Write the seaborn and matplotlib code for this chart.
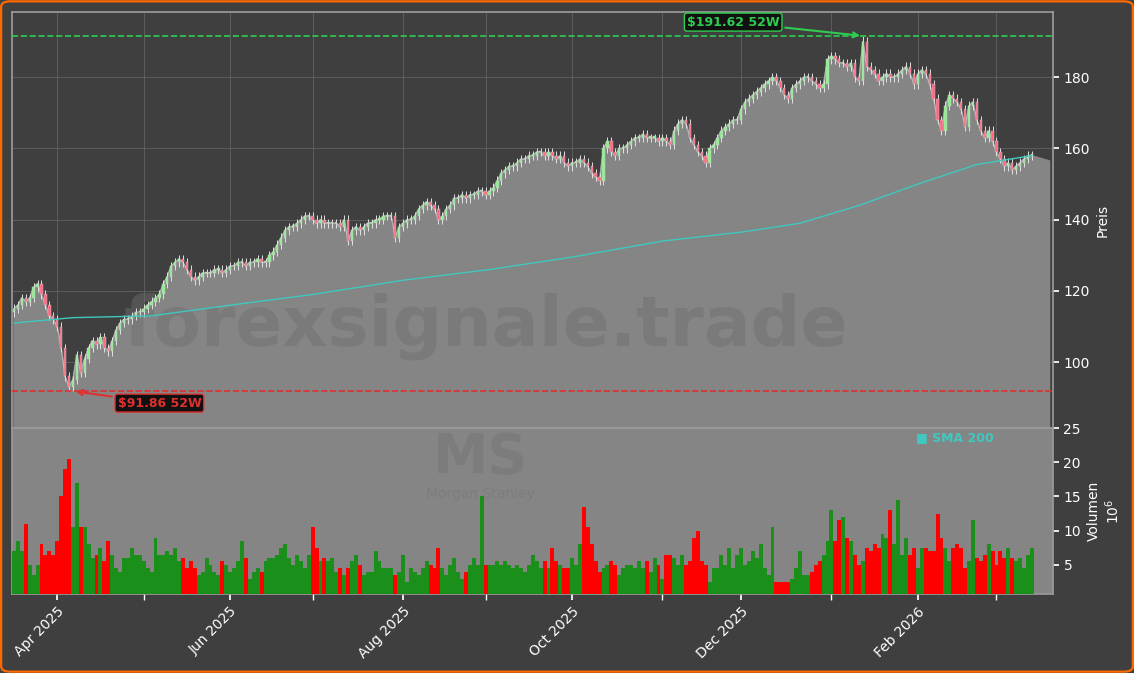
import numpy as np
import pandas as pd
import matplotlib
matplotlib.use("Agg")
import matplotlib.pyplot as plt
from matplotlib.patches import FancyBboxPatch
import seaborn as sns

sns.set_theme(style="dark")
plt.rcParams['font.family'] = ['DejaVu Sans']

dates = pd.bdate_range("2025-03-17", periods=260)
closes = [115,116,118,117,118, 121,122,119,116,113, 112,110,104,96,93, 95,102,97,101,104,
          106,105,107,104,103, 106,109,111,112,112, 113,114,114,115,116, 117,118,119,122,124,
          127,128,129,128,126, 124,123,124,125,125, 125,126,126,125,126, 127,127,128,128,127,
          128,128,129,128,128, 130,131,133,135,137, 138,138,139,140,141, 141,140,139,140,139,
          139,139,139,138,140, 134,137,138,137,138, 139,139,140,140,141, 141,141,135,138,139,
          140,140,141,143,144, 145,144,143,140,141, 143,144,146,146,147, 146,147,147,148,148,
          147,148,149,151,153, 154,155,155,156,157, 157,158,158,159,159, 158,159,158,157,158,
          156,155,156,156,157, 156,155,153,152,151, 160,162,159,158,160, 160,161,162,163,163,
          164,163,163,163,162, 163,162,161,165,167, 168,167,163,161,159, 158,156,160,161,163,
          165,166,167,168,168, 171,173,174,175,176, 177,178,179,180,179, 177,175,174,177,178,
          179,180,180,179,178, 177,178,185,186,185, 184,184,183,184,180, 179,190,183,182,181,
          179,180,181,180,180, 181,182,183,181,178, 181,182,181,178,174, 168,165,172,175,174,
          173,171,166,172,173, 168,165,163,165,162, 159,157,155,156,154, 155,156,157,158,158]
volumes = [7,8.5,7,11,5, 3.5,5,8,6.5,7, 6.5,8.5,15,19,20.5, 10.5,17,10.5,10.5,8,
           6,6.5,7.5,5.5,8.5, 6.5,4.5,4,6,6, 7.5,6.5,6.5,5.5,4.5, 4,9,6.5,6.5,7,
           6.5,7.5,5.5,6,4.5, 5.5,4.5,3.5,4,6, 5,4,3.5,5.5,5, 4,4.5,5.5,8.5,6,
           3,4,4.5,4,5.5, 6,6,6.5,7.5,8, 6,5,6.5,5.5,4.5, 6.5,10.5,7.5,5.5,6,
           5.5,6,4,4.5,3.5, 4.5,5.5,6.5,5,3.5, 4,4,7,5.5,4.5, 4.5,4.5,3.5,4,6.5,
           2.5,4.5,4,3.5,4.5, 5.5,5,4.5,7.5,4.5, 3.5,5,6,4,3, 4,5,6,5,15,
           5,5,5,5.5,5, 5.5,5,4.5,5,4.5, 4,5,6.5,5.5,4.5, 5.5,4.5,7.5,5.5,5,
           4.5,4.5,6,5,8, 13.5,10.5,8,5.5,4, 4.5,5,5.5,5,3.5, 4.5,5,5,4.5,5.5,
           4.5,5.5,4,6,5, 3,6.5,6.5,6,5, 6.5,5,5.5,9,10, 5.5,5,2.5,4.5,4.5,
           6.5,5,7.5,4.5,6.5, 7.5,5,5.5,7,6, 8,4.5,3.5,10.5,2.5, 2.5,2.5,2.5,3,4.5,
           7,3.5,3.5,4,5, 5.5,6.5,8.5,13,8.5, 11.5,12,9,8.5,6.5, 5,5.5,7.5,7,8,
           7.5,9.5,9,13,8, 14.5,6.5,9,6.5,7.5, 4.5,7.5,7.5,7,7, 12.5,9,7.5,5.5,7.5,
           8,7.5,4.5,5.5,11.5, 6,5.5,6.5,8,7, 5,7,6,7.5,6, 5.5,6,4.5,6.5,7.5]
sma_dates = ["2025-03-17","2025-04-07","2025-05-05","2025-06-02","2025-07-01","2025-08-01",
             "2025-09-02","2025-10-01","2025-11-03","2025-12-01","2025-12-22","2026-01-12",
             "2026-02-02","2026-02-23","2026-03-13"]
sma_vals = [111,112.5,113,116,119,123,126,129.5,134,136.5,139,144,150,155.5,158]
low_52w, low_date = 91.86, "2025-04-07"
high_52w, high_date = 191.62, "2026-01-13"

df = pd.DataFrame({"date": dates, "close": closes, "vol": volumes})
df["open"] = df["close"].shift(1).fillna(df["close"].iloc[0] - 1)
x = np.arange(len(df))
pos = pd.Series(x, index=df["date"])

BG = "#3f3f3f"
fig = plt.figure(figsize=(11.34, 6.73), dpi=100, facecolor=BG)
ax = fig.add_axes([0.0106, 0.364, 0.918, 0.618])
axv = fig.add_axes([0.0106, 0.1174, 0.918, 0.2466], sharex=ax)
fig.patches.append(FancyBboxPatch((0.001, 0.002), 0.998, 0.996, boxstyle="round,pad=0,rounding_size=0.008",
                                  transform=fig.transFigure, fill=False, edgecolor="#ff6a00", linewidth=1.6))
for a in (ax, axv):
    a.set_facecolor(BG)
    for s in a.spines.values():
        s.set_color("#9a9a9a")

# area fill
fx = np.append(x, x[-1] + 4.5)
fy = np.append(df["close"].values, df["close"].values[-1] - 1.5)
ax.fill_between(fx, 0, fy, color="#858585", zorder=1)
ax.plot(x, df["close"], color="#b0b0b0", lw=1, zorder=2)

# candles
up = df["close"] >= df["open"]
hi = np.maximum(df["close"], df["open"]) + 1.2
lo = np.minimum(df["close"], df["open"]) - 1.2
li = int(pos[pd.Timestamp(low_date)])
hii = int(pos[pd.Timestamp(high_date)])
lo.iloc[li] = low_52w
hi.iloc[hii] = high_52w
ax.vlines(x, lo, hi, color="#e0e0e0", lw=0.7, zorder=3)
body_c = np.where(up, "#90ee90", "#ff6680")
ax.bar(x, (df["close"] - df["open"]).abs().clip(lower=0.4), bottom=np.minimum(df["close"], df["open"]),
       width=0.6, color=body_c, edgecolor="#d0d0d0", linewidth=0.3, zorder=4)

sma_x = [int(pos[pd.Timestamp(d)]) for d in sma_dates]
sns.lineplot(x=sma_x, y=sma_vals, ax=ax, color="#40c8c0", lw=1, zorder=5)

ax.axhline(high_52w, color="#2ecc50", ls="--", lw=1.2, zorder=6)
ax.axhline(low_52w, color="#e03030", ls="--", lw=1.2, zorder=6)
ax.annotate(f"${high_52w:.2f} 52W", xy=(hii, high_52w), xytext=(hii - 33, 195.5),
            color="#2ecc50", fontsize=9, fontweight="bold", ha="center", va="center",
            bbox=dict(boxstyle="round,pad=0.2", fc="#111111", ec="#2ecc50"),
            arrowprops=dict(arrowstyle="->", color="#2ecc50", lw=1.5), zorder=7)
ax.annotate(f"${low_52w:.2f} 52W", xy=(li, low_52w), xytext=(li + 22, 88.5),
            color="#e03030", fontsize=9, fontweight="bold", ha="center", va="center",
            bbox=dict(boxstyle="round,pad=0.2", fc="#111111", ec="#e03030"),
            arrowprops=dict(arrowstyle="->", color="#e03030", lw=1.5), zorder=7)

ax.text(0.455, 0.245, "forexsignale.trade", transform=ax.transAxes, fontsize=50, fontweight="bold",
        color="#6e6e6e", alpha=0.45, ha="center", va="center", zorder=2)

# month ticks at first trading day of each month
month_first = df.groupby(df["date"].dt.to_period("M")).head(1)
month_first = month_first[month_first["date"] > dates[0]]
major = month_first[month_first["date"].dt.month % 2 == 0]

ax.set_ylim(81.5, 198.3)
ax.yaxis.tick_right()
ax.yaxis.set_label_position("right")
ax.set_ylabel("Preis", color="white", fontsize=10)
ax.tick_params(axis="y", colors="white", labelsize=10, length=4, left=False, right=True)
ax.set_xlim(-0.5, -0.5 + 1041 / 3.93)
ax.grid(True, axis="y", color="#777777", lw=0.6, alpha=0.6)
for mx in month_first.index:
    ax.axvline(mx, color="#777777", lw=0.6, alpha=0.6, zorder=0.5)

# volume
vcol = np.where(up, "#1a8f1a", "#ff0000")
axv.set_facecolor("#858585")
axv.bar(x, df["vol"], width=1.0, color=vcol, linewidth=0, zorder=3)
axv.set_ylim(0.75, 25)
axv.set_yticks([5, 10, 15, 20, 25])
axv.yaxis.tick_right()
axv.yaxis.set_label_position("right")
axv.set_ylabel("Volumen\n$10^6$", color="white", fontsize=10)
axv.tick_params(axis="y", colors="white", labelsize=10, length=4, left=False, right=True)
axv.set_xticks(major.index)
axv.set_xticklabels(major["date"].dt.strftime("%b %Y"))
axv.set_xticks(month_first.index, minor=True)
ax.tick_params(axis="x", which="both", bottom=False, labelbottom=False)
axv.tick_params(axis="x", which="both", colors="white", labelsize=10, length=4, bottom=True)
plt.setp(axv.get_xticklabels(), rotation=45, ha="right", rotation_mode="anchor")
axv.text(0.45, 0.82, "MS", transform=axv.transAxes, fontsize=40, fontweight="bold", color="#747474",
         alpha=0.5, ha="center", va="center", zorder=2)
axv.text(0.45, 0.6, "Morgan Stanley", transform=axv.transAxes, fontsize=10, color="#747474",
         alpha=0.5, ha="center", va="center", zorder=2)
axv.text(0.868, 0.94, "■ SMA 200", transform=axv.transAxes, fontsize=9, fontweight="bold",
         color="#40c8c0", ha="left", va="center", zorder=5)

fig.savefig("out.png", dpi=100, facecolor=BG)
